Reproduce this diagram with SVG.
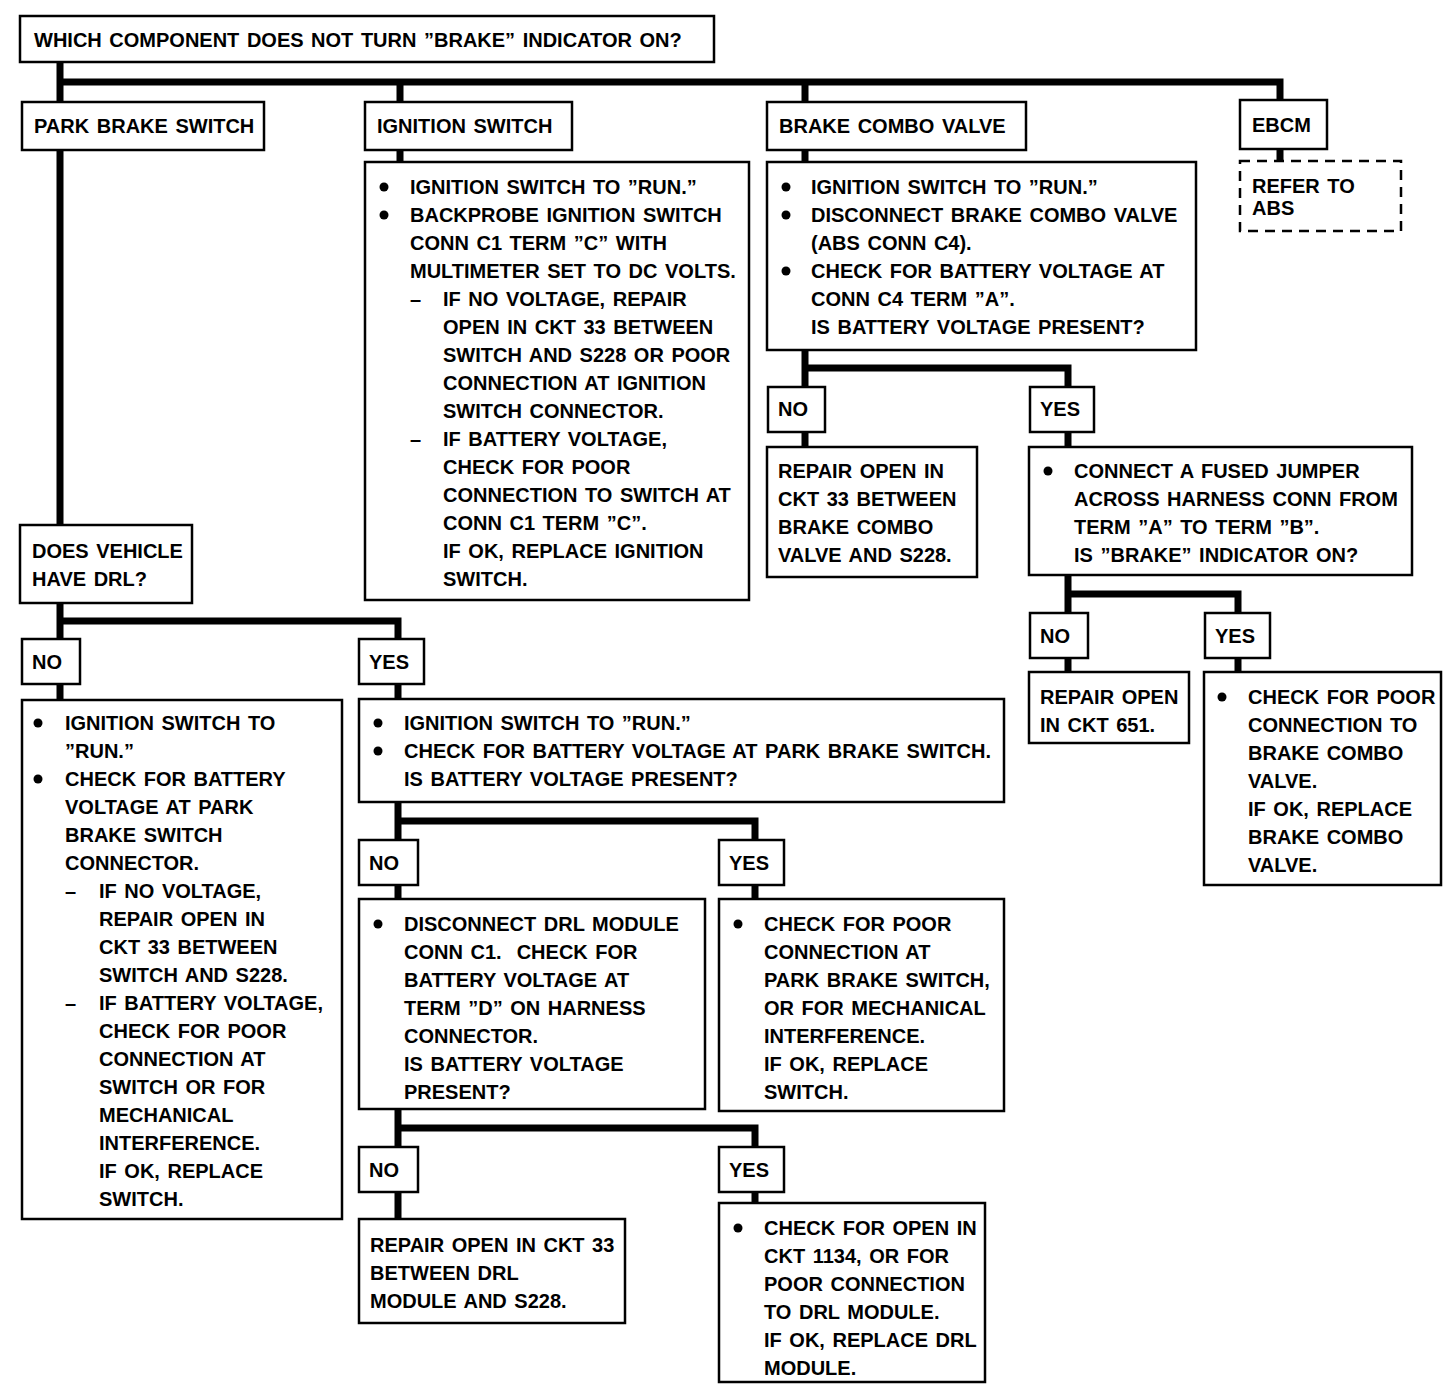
<svg xmlns="http://www.w3.org/2000/svg" width="1456" height="1388" viewBox="0 0 1456 1388">
<style>
.bx{fill:#fff;stroke:#000;stroke-width:2.5}
.dash{fill:#fff;stroke:#000;stroke-width:2.5;stroke-dasharray:10 7}
.ln{fill:none;stroke:#000;stroke-width:7;stroke-linecap:square}
.t{font-family:"Liberation Sans",Arial,sans-serif;font-weight:bold;font-size:20px;word-spacing:2px;fill:#000}
.pre{white-space:pre}
.b{fill:#000}
</style>
<rect width="1456" height="1388" fill="#fff"/>
<g id="connectors">
<path class="ln" d="M60 62V102M60 82H1280V100M400 82V102M805 82V102"/>
<path class="ln" d="M400 150V162M805 150V162M1280 149V161"/>
<path class="ln" d="M60 150V525M60 603V639M60 621H398V639M60 684V700M398 684V699"/>
<path class="ln" d="M398 802V840M398 821H755V840M398 885V899M755 885V899"/>
<path class="ln" d="M398 1109V1147M398 1128H755V1147M398 1192V1219M755 1192V1203"/>
<path class="ln" d="M805 350V387M805 368H1068V387M805 432V447M1068 432V447"/>
<path class="ln" d="M1068 575V613M1068 594H1238V613M1068 658V672M1238 658V672"/>
</g>
<g id="n-top"><rect class="bx" x="20" y="16" width="694" height="46"/><text class="t" x="34" y="47">WHICH COMPONENT DOES NOT TURN ”BRAKE” INDICATOR ON?</text></g>
<g id="n-park"><rect class="bx" x="22" y="102" width="242" height="48"/><text class="t" x="34" y="133">PARK BRAKE SWITCH</text></g>
<g id="n-ign"><rect class="bx" x="365" y="102" width="207" height="48"/><text class="t" x="377" y="133">IGNITION SWITCH</text></g>
<g id="n-combo"><rect class="bx" x="767" y="102" width="259" height="48"/><text class="t" x="779" y="133">BRAKE COMBO VALVE</text></g>
<g id="n-ebcm"><rect class="bx" x="1240" y="100" width="87" height="49"/><text class="t" x="1252" y="132">EBCM</text></g>
<g id="n-abs"><rect class="dash" x="1240" y="161" width="161" height="70"/><text class="t" x="1252" y="193">REFER TO</text><text class="t" x="1252" y="215">ABS</text></g>
<g id="n-ign-detail"><rect class="bx" x="365" y="162" width="384" height="438"/>
<circle class="b" cx="384" cy="187" r="4.5"/><circle class="b" cx="384" cy="215" r="4.5"/>
<text class="t" x="410" y="194">IGNITION SWITCH TO ”RUN.”</text>
<text class="t" x="410" y="222">BACKPROBE IGNITION SWITCH</text>
<text class="t" x="410" y="250">CONN C1 TERM ”C” WITH</text>
<text class="t" x="410" y="278">MULTIMETER SET TO DC VOLTS.</text>
<text class="t" x="410" y="306">–</text><text class="t" x="443" y="306">IF NO VOLTAGE, REPAIR</text>
<text class="t" x="443" y="334">OPEN IN CKT 33 BETWEEN</text>
<text class="t" x="443" y="362">SWITCH AND S228 OR POOR</text>
<text class="t" x="443" y="390">CONNECTION AT IGNITION</text>
<text class="t" x="443" y="418">SWITCH CONNECTOR.</text>
<text class="t" x="410" y="446">–</text><text class="t" x="443" y="446">IF BATTERY VOLTAGE,</text>
<text class="t" x="443" y="474">CHECK FOR POOR</text>
<text class="t" x="443" y="502">CONNECTION TO SWITCH AT</text>
<text class="t" x="443" y="530">CONN C1 TERM ”C”.</text>
<text class="t" x="443" y="558">IF OK, REPLACE IGNITION</text>
<text class="t" x="443" y="586">SWITCH.</text>
</g>
<g id="n-combo-detail"><rect class="bx" x="767" y="162" width="429" height="188"/>
<circle class="b" cx="786" cy="187" r="4.5"/><circle class="b" cx="786" cy="215" r="4.5"/><circle class="b" cx="786" cy="271" r="4.5"/>
<text class="t" x="811" y="194">IGNITION SWITCH TO ”RUN.”</text>
<text class="t" x="811" y="222">DISCONNECT BRAKE COMBO VALVE</text>
<text class="t" x="811" y="250">(ABS CONN C4).</text>
<text class="t" x="811" y="278">CHECK FOR BATTERY VOLTAGE AT</text>
<text class="t" x="811" y="306">CONN C4 TERM ”A”.</text>
<text class="t" x="811" y="334">IS BATTERY VOLTAGE PRESENT?</text>
</g>
<g id="n-combo-no"><rect class="bx" x="768" y="387" width="57" height="45"/><text class="t" x="778" y="416">NO</text></g>
<g id="n-combo-yes"><rect class="bx" x="1030" y="387" width="64" height="45"/><text class="t" x="1040" y="416">YES</text></g>
<g id="n-repair33"><rect class="bx" x="767" y="447" width="210" height="130"/>
<text class="t" x="778" y="478">REPAIR OPEN IN</text>
<text class="t" x="778" y="506">CKT 33 BETWEEN</text>
<text class="t" x="778" y="534">BRAKE COMBO</text>
<text class="t" x="778" y="562">VALVE AND S228.</text>
</g>
<g id="n-jumper"><rect class="bx" x="1029" y="447" width="383" height="128"/>
<circle class="b" cx="1048" cy="471" r="4.5"/>
<text class="t" x="1074" y="478">CONNECT A FUSED JUMPER</text>
<text class="t" x="1074" y="506">ACROSS HARNESS CONN FROM</text>
<text class="t" x="1074" y="534">TERM ”A” TO TERM ”B”.</text>
<text class="t" x="1074" y="562">IS ”BRAKE” INDICATOR ON?</text>
</g>
<g id="n-jumper-no"><rect class="bx" x="1030" y="613" width="58" height="45"/><text class="t" x="1040" y="643">NO</text></g>
<g id="n-jumper-yes"><rect class="bx" x="1205" y="613" width="65" height="45"/><text class="t" x="1215" y="643">YES</text></g>
<g id="n-repair651"><rect class="bx" x="1029" y="672" width="160" height="71"/>
<text class="t" x="1040" y="704">REPAIR OPEN</text>
<text class="t" x="1040" y="732">IN CKT 651.</text>
</g>
<g id="n-combo-check"><rect class="bx" x="1204" y="672" width="237" height="213"/>
<circle class="b" cx="1222" cy="697" r="4.5"/>
<text class="t" x="1248" y="704">CHECK FOR POOR</text>
<text class="t" x="1248" y="732">CONNECTION TO</text>
<text class="t" x="1248" y="760">BRAKE COMBO</text>
<text class="t" x="1248" y="788">VALVE.</text>
<text class="t" x="1248" y="816">IF OK, REPLACE</text>
<text class="t" x="1248" y="844">BRAKE COMBO</text>
<text class="t" x="1248" y="872">VALVE.</text>
</g>
<g id="n-drl"><rect class="bx" x="20" y="525" width="172" height="78"/>
<text class="t" x="32" y="558">DOES VEHICLE</text>
<text class="t" x="32" y="586">HAVE DRL?</text>
</g>
<g id="n-drl-no"><rect class="bx" x="22" y="639" width="58" height="45"/><text class="t" x="32" y="669">NO</text></g>
<g id="n-drl-yes"><rect class="bx" x="359" y="639" width="65" height="45"/><text class="t" x="369" y="669">YES</text></g>
<g id="n-nodrl"><rect class="bx" x="22" y="700" width="320" height="519"/>
<circle class="b" cx="38" cy="723" r="4.5"/><circle class="b" cx="38" cy="779" r="4.5"/>
<text class="t" x="65" y="730">IGNITION SWITCH TO</text>
<text class="t" x="65" y="758">”RUN.”</text>
<text class="t" x="65" y="786">CHECK FOR BATTERY</text>
<text class="t" x="65" y="814">VOLTAGE AT PARK</text>
<text class="t" x="65" y="842">BRAKE SWITCH</text>
<text class="t" x="65" y="870">CONNECTOR.</text>
<text class="t" x="65" y="898">–</text><text class="t" x="99" y="898">IF NO VOLTAGE,</text>
<text class="t" x="99" y="926">REPAIR OPEN IN</text>
<text class="t" x="99" y="954">CKT 33 BETWEEN</text>
<text class="t" x="99" y="982">SWITCH AND S228.</text>
<text class="t" x="65" y="1010">–</text><text class="t" x="99" y="1010">IF BATTERY VOLTAGE,</text>
<text class="t" x="99" y="1038">CHECK FOR POOR</text>
<text class="t" x="99" y="1066">CONNECTION AT</text>
<text class="t" x="99" y="1094">SWITCH OR FOR</text>
<text class="t" x="99" y="1122">MECHANICAL</text>
<text class="t" x="99" y="1150">INTERFERENCE.</text>
<text class="t" x="99" y="1178">IF OK, REPLACE</text>
<text class="t" x="99" y="1206">SWITCH.</text>
</g>
<g id="n-yesdrl"><rect class="bx" x="359" y="699" width="645" height="103"/>
<circle class="b" cx="378" cy="723" r="4.5"/><circle class="b" cx="378" cy="751" r="4.5"/>
<text class="t" x="404" y="730">IGNITION SWITCH TO ”RUN.”</text>
<text class="t" x="404" y="758">CHECK FOR BATTERY VOLTAGE AT PARK BRAKE SWITCH.</text>
<text class="t" x="404" y="786">IS BATTERY VOLTAGE PRESENT?</text>
</g>
<g id="n-yd-no"><rect class="bx" x="359" y="840" width="59" height="45"/><text class="t" x="369" y="870">NO</text></g>
<g id="n-yd-yes"><rect class="bx" x="719" y="840" width="65" height="45"/><text class="t" x="729" y="870">YES</text></g>
<g id="n-drlmod"><rect class="bx" x="359" y="899" width="346" height="210"/>
<circle class="b" cx="378" cy="924" r="4.5"/>
<text class="t" x="404" y="931">DISCONNECT DRL MODULE</text>
<text class="t pre" x="404" y="959">CONN C1.  CHECK FOR</text>
<text class="t" x="404" y="987">BATTERY VOLTAGE AT</text>
<text class="t" x="404" y="1015">TERM ”D” ON HARNESS</text>
<text class="t" x="404" y="1043">CONNECTOR.</text>
<text class="t" x="404" y="1071">IS BATTERY VOLTAGE</text>
<text class="t" x="404" y="1099">PRESENT?</text>
</g>
<g id="n-parkcheck"><rect class="bx" x="719" y="899" width="285" height="212"/>
<circle class="b" cx="738" cy="924" r="4.5"/>
<text class="t" x="764" y="931">CHECK FOR POOR</text>
<text class="t" x="764" y="959">CONNECTION AT</text>
<text class="t" x="764" y="987">PARK BRAKE SWITCH,</text>
<text class="t" x="764" y="1015">OR FOR MECHANICAL</text>
<text class="t" x="764" y="1043">INTERFERENCE.</text>
<text class="t" x="764" y="1071">IF OK, REPLACE</text>
<text class="t" x="764" y="1099">SWITCH.</text>
</g>
<g id="n-dm-no"><rect class="bx" x="359" y="1147" width="59" height="45"/><text class="t" x="369" y="1177">NO</text></g>
<g id="n-dm-yes"><rect class="bx" x="719" y="1147" width="65" height="45"/><text class="t" x="729" y="1177">YES</text></g>
<g id="n-repairdrl"><rect class="bx" x="359" y="1219" width="266" height="104"/>
<text class="t" x="370" y="1252">REPAIR OPEN IN CKT 33</text>
<text class="t" x="370" y="1280">BETWEEN DRL</text>
<text class="t" x="370" y="1308">MODULE AND S228.</text>
</g>
<g id="n-ckt1134"><rect class="bx" x="719" y="1203" width="266" height="179"/>
<circle class="b" cx="738" cy="1228" r="4.5"/>
<text class="t" x="764" y="1235">CHECK FOR OPEN IN</text>
<text class="t" x="764" y="1263">CKT 1134, OR FOR</text>
<text class="t" x="764" y="1291">POOR CONNECTION</text>
<text class="t" x="764" y="1319">TO DRL MODULE.</text>
<text class="t" x="764" y="1347">IF OK, REPLACE DRL</text>
<text class="t" x="764" y="1375">MODULE.</text>
</g>
</svg>
